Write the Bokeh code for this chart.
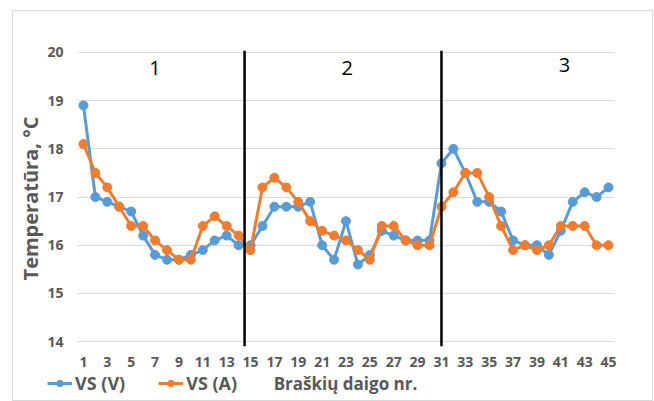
from bokeh.plotting import figure
from bokeh.layouts import column, row
from bokeh.models import Legend, LegendItem, FixedTicker, Range1d, ColumnDataSource, Label
from bokeh.core.properties import value
from bokeh.embed import file_html
from bokeh.resources import INLINE

# ---- data ----
plants = list(range(1, 46))
vs_v = [18.9, 17.0, 16.9, 16.8, 16.7, 16.2, 15.8, 15.7, 15.7, 15.8,
        15.9, 16.1, 16.2, 16.0, 16.0, 16.4, 16.8, 16.8, 16.8, 16.9,
        16.0, 15.7, 16.5, 15.6, 15.8, 16.3, 16.2, 16.1, 16.1, 16.1,
        17.7, 18.0, 17.5, 16.9, 16.9, 16.7, 16.1, 16.0, 16.0, 15.8,
        16.3, 16.9, 17.1, 17.0, 17.2]
vs_a = [18.1, 17.5, 17.2, 16.8, 16.4, 16.4, 16.1, 15.9, 15.7, 15.7,
        16.4, 16.6, 16.4, 16.2, 15.9, 17.2, 17.4, 17.2, 16.9, 16.5,
        16.3, 16.2, 16.1, 15.9, 15.7, 16.4, 16.4, 16.1, 16.0, 16.0,
        16.8, 17.1, 17.5, 17.5, 17.0, 16.4, 15.9, 16.0, 15.9, 16.0,
        16.4, 16.4, 16.4, 16.0, 16.0]
x_ticks = list(range(1, 46, 2))
y_ticks = [14, 15, 16, 17, 18, 19, 20]
dividers = [14.5, 31]
divider_span = [13.9, 20.04]
group_names = ["1", "2", "3"]
group_x = [7.0, 23.1, 41.3]
group_y = [19.68, 19.68, 19.74]
series_names = ["VS (V)", "VS (A)"]
x_title = "Braškių daigo nr."
y_title = "Temperatūra, °C"

BLUE = "#5B9BD5"
ORANGE = "#ED7D31"
GRAY = "#595959"
FONT = "Open Sans"

src = ColumnDataSource(dict(x=plants, v=vs_v, a=vs_a))

# ---- main chart ----
p = figure(width=639, height=358, output_backend="svg", toolbar_location=None,
           x_range=Range1d(0.5, 45.5), y_range=Range1d(divider_span[0], divider_span[1]),
           min_border_left=64, min_border_right=38, min_border_top=39, min_border_bottom=23)
p.outline_line_color = None
p.background_fill_color = "white"
p.border_fill_color = "white"

p.xgrid.grid_line_color = None
p.ygrid.grid_line_color = "#D9D9D9"
p.ygrid.grid_line_width = 1

p.xaxis.ticker = FixedTicker(ticks=x_ticks)
p.yaxis.ticker = FixedTicker(ticks=y_ticks)
for ax in (p.xaxis, p.yaxis):
    ax.axis_line_color = None
    ax.major_tick_line_color = None
    ax.minor_tick_line_color = None
    ax.major_label_text_font = FONT
    ax.major_label_text_font_style = "bold"
    ax.major_label_text_color = GRAY
    ax.major_label_text_font_size = "14px"
p.xaxis.major_label_standoff = 4
p.yaxis.major_label_standoff = 8
p.yaxis.axis_label = y_title
p.yaxis.axis_label_text_font = FONT
p.yaxis.axis_label_text_font_style = "bold"
p.yaxis.axis_label_text_color = GRAY
p.yaxis.axis_label_text_font_size = "20px"
p.yaxis.axis_label_standoff = 0

p.line("x", "v", source=src, line_color=BLUE, line_width=3)
p.scatter("x", "v", source=src, size=9, fill_color=BLUE, line_color=BLUE)
p.line("x", "a", source=src, line_color=ORANGE, line_width=3)
p.scatter("x", "a", source=src, size=9, fill_color=ORANGE, line_color=ORANGE)

p.segment(x0=dividers, y0=[divider_span[0]] * len(dividers),
          x1=dividers, y1=[divider_span[1]] * len(dividers),
          line_color="black", line_width=2.5)

p.text(x=group_x, y=group_y, text=group_names, text_font=value(FONT),
       text_font_size="20px", text_color="black", text_align="center", text_baseline="middle")

# ---- bottom strip: legend + x-axis title (series drawn out of view, used for legend glyphs) ----
q = figure(width=639, height=31, output_backend="svg", toolbar_location=None,
           x_range=Range1d(0, 1), y_range=Range1d(0, 1),
           min_border=0, outline_line_color=None)
q.axis.visible = False
q.grid.visible = False
q.background_fill_color = "white"
q.border_fill_color = "white"
gl_v = q.line("x", "v", source=src, line_color=BLUE, line_width=3)
gs_v = q.scatter("x", "v", source=src, size=9, fill_color=BLUE, line_color=BLUE)
gl_a = q.line("x", "a", source=src, line_color=ORANGE, line_width=3)
gs_a = q.scatter("x", "a", source=src, size=9, fill_color=ORANGE, line_color=ORANGE)

legend = Legend(items=[LegendItem(label=series_names[0], renderers=[gl_v, gs_v]),
                       LegendItem(label=series_names[1], renderers=[gl_a, gs_a])],
                orientation="horizontal", location=(34, 5),
                background_fill_alpha=0, border_line_color=None,
                label_text_font=FONT, label_text_font_style="bold",
                label_text_color=GRAY, label_text_font_size="18px",
                glyph_width=25, glyph_height=16, label_standoff=3, spacing=33,
                padding=0, margin=0)
q.add_layout(legend, "center")
q.add_layout(Label(x=332, y=17, x_units="screen", y_units="screen", text=x_title,
                   text_font=FONT, text_font_style="bold", text_color=GRAY,
                   text_font_size="17px", text_align="center", text_baseline="middle"))

layout = column(p, row(q), spacing=0)
layout.margin = (10, 0, 0, 12)
layout.styles = {"border": "1px solid #d9d9d9"}

open("out.html", "w").write(file_html(layout, INLINE))
